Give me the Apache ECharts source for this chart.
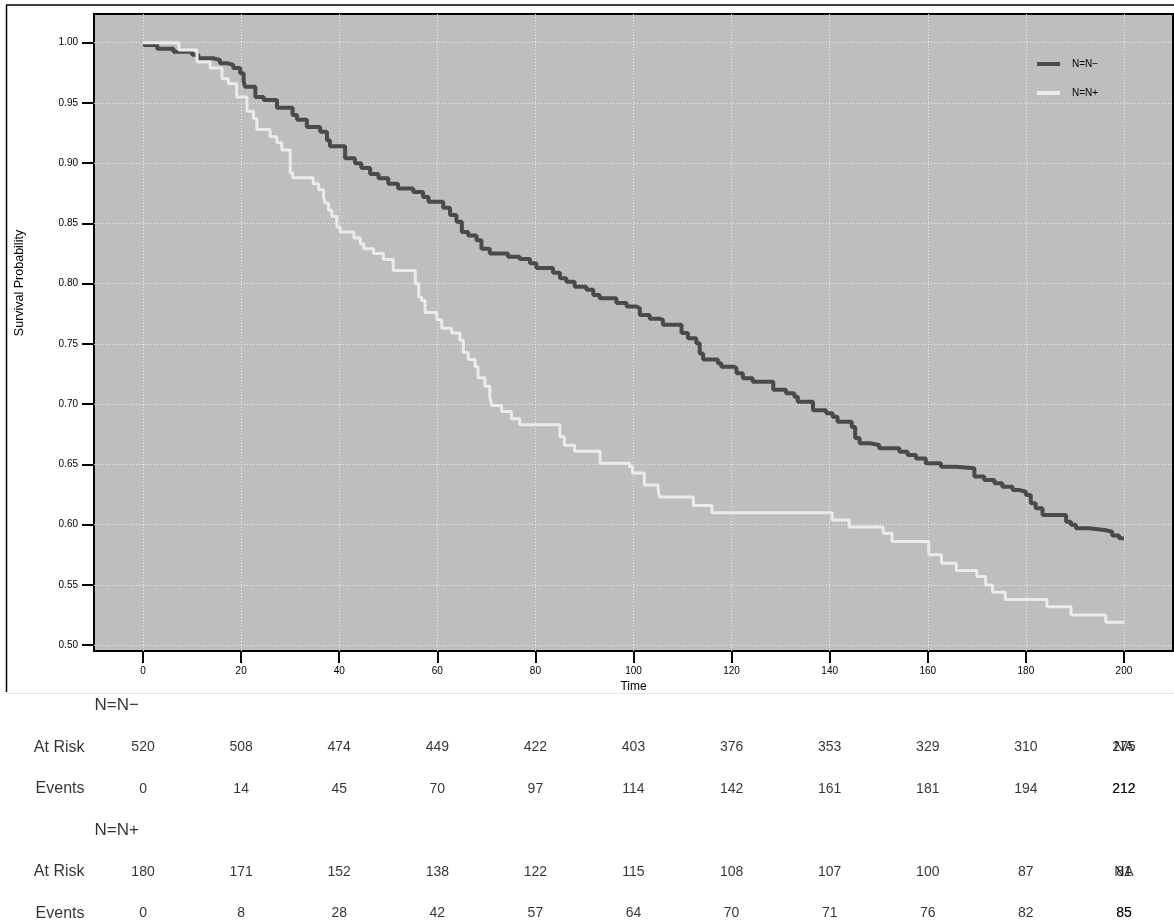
<!DOCTYPE html>
<html><head><meta charset="utf-8">
<script src="https://cdn.jsdelivr.net/npm/echarts@6/dist/echarts.min.js"></script>
<style>html,body{margin:0;padding:0;background:#fff}#c{width:1174px;height:923px}</style>
</head><body><div id="c"></div>
<script>
// ---------- data ----------
const groups = ['N=N\u2212', 'N=N+'];
const timeTicks = [0, 20, 40, 60, 80, 100, 120, 140, 160, 180, 200];
const probTicks = [0.50, 0.55, 0.60, 0.65, 0.70, 0.75, 0.80, 0.85, 0.90, 0.95, 1.00];

const negTime = [0, 2.9, 6.2, 10.0, 11.3, 14.4, 15.7, 17.1, 18.4, 19.8, 20.5, 20.8, 22.9, 24.6, 27.3, 30.5, 31.4, 33.4, 36.1, 37.5,
  38.1, 41.2, 43.2, 44.5, 46.3, 48.0, 50.0, 52.0, 55.1, 57.1, 58.2, 61.2, 62.6, 63.9, 65.0, 66.3, 68.0, 69.0, 70.7, 74.4,
  76.8, 78.9, 80.2, 83.6, 85.0, 86.3, 88.0, 90.4, 91.8, 93.1, 96.5, 98.6, 100.6, 101.3, 103.3, 105.3, 106.0, 109.8, 111.1, 112.8,
  113.5, 114.2, 117.2, 117.9, 120.5, 121.0, 122.3, 124.3, 128.5, 131.1, 132.8, 133.5, 136.6, 139.3, 140.6, 141.6, 144.5, 145.2, 146.1, 148.2,
  150.1, 154.2, 155.9, 157.6, 159.6, 162.7, 165.8, 169.5, 171.5, 173.6, 175.2, 177.3, 178.6, 180.0, 181.0, 182.0, 183.4, 188.2, 189.2, 190.2,
  192.9, 196.0, 197.6, 199.0, 200.0];
const negSurv = [0.998, 0.995, 0.9925, 0.990, 0.987, 0.9856, 0.983, 0.9815, 0.979, 0.9746, 0.968, 0.9635, 0.955, 0.9525, 0.946, 0.940, 0.936, 0.930, 0.926, 0.919,
  0.914, 0.904, 0.900, 0.896, 0.891, 0.8875, 0.883, 0.879, 0.876, 0.872, 0.868, 0.863, 0.857, 0.8515, 0.843, 0.840, 0.836, 0.829, 0.825, 0.8224,
  0.8205, 0.817, 0.813, 0.809, 0.8045, 0.8017, 0.7975, 0.795, 0.7906, 0.788, 0.784, 0.781, 0.7796, 0.774, 0.771, 0.770, 0.766, 0.759, 0.7547, 0.7505,
  0.742, 0.737, 0.734, 0.731, 0.7298, 0.7256, 0.7215, 0.7187, 0.712, 0.709, 0.7062, 0.702, 0.695, 0.6924, 0.6896, 0.6855, 0.681, 0.672, 0.6676, 0.6662,
  0.6634, 0.6606, 0.6578, 0.655, 0.651, 0.6481, 0.6468, 0.640, 0.637, 0.6344, 0.6316, 0.6288, 0.6274, 0.6246, 0.6178, 0.6136, 0.608, 0.6025, 0.600, 0.597,
  0.5956, 0.5942, 0.591, 0.5887, 0.5887];

const posTime = [0, 7.3, 11.0, 13.7, 16.1, 17.4, 19.1, 21.2, 22.5, 23.2, 25.9, 27.3, 28.3, 30.0, 30.5, 34.7, 35.8, 36.8, 37.1, 37.8,
  38.5, 39.5, 40.2, 43.0, 44.3, 45.0, 47.0, 49.0, 51.0, 55.5, 56.2, 56.8, 57.5, 59.9, 60.9, 62.9, 64.6, 65.3, 66.3, 67.7,
  68.3, 69.7, 70.7, 71.1, 73.1, 75.1, 76.8, 85.0, 85.9, 88.0, 93.2, 99.2, 99.8, 102.2, 105.0, 105.3, 112.2, 116.0, 140.5, 144.0,
  150.9, 152.7, 160.2, 162.8, 165.8, 170.0, 171.8, 173.2, 175.8, 184.3, 189.2, 196.3, 200.0];
const posSurv = [1.000, 0.994, 0.984, 0.979, 0.970, 0.966, 0.955, 0.943, 0.937, 0.928, 0.922, 0.917, 0.911, 0.892, 0.888, 0.883, 0.878, 0.872, 0.867, 0.861,
  0.856, 0.847, 0.843, 0.838, 0.833, 0.829, 0.825, 0.820, 0.811, 0.800, 0.789, 0.786, 0.776, 0.770, 0.763, 0.759, 0.753, 0.743, 0.737, 0.731,
  0.722, 0.715, 0.706, 0.699, 0.694, 0.688, 0.683, 0.673, 0.666, 0.661, 0.651, 0.648, 0.643, 0.633, 0.630, 0.623, 0.616, 0.610, 0.604, 0.598,
  0.593, 0.586, 0.575, 0.568, 0.562, 0.557, 0.550, 0.544, 0.538, 0.532, 0.525, 0.519, 0.519];

const rowLabels = ['At Risk', 'Events'];
const negAtRisk = ['520', '508', '474', '449', '422', '403', '376', '353', '329', '310', '275'];
const negEvents = ['0', '14', '45', '70', '97', '114', '142', '161', '181', '194', '212'];
const posAtRisk = ['180', '171', '152', '138', '122', '115', '108', '107', '100', '87', '81'];
const posEvents = ['0', '8', '28', '42', '57', '64', '70', '71', '76', '82', '85'];
// second labels printed on top of the last column
const negAtRiskExtra = ['NA'];
const negEventsExtra = ['212'];
const posAtRiskExtra = ['NA'];
const posEventsExtra = ['85'];

// ---------- build ----------
const FONT = "'Liberation Sans', Arial, Helvetica, sans-serif";
const zip = (a, b) => a.map((v, i) => [v, b[i]]);
const X_MIN = -10, X_MAX = 210;

const tableRows = [
  { header: groups[0] },
  { label: rowLabels[0], values: negAtRisk, extra: negAtRiskExtra },
  { label: rowLabels[1], values: negEvents, extra: negEventsExtra },
  { header: groups[1] },
  { label: rowLabels[0], values: posAtRisk, extra: posAtRiskExtra },
  { label: rowLabels[1], values: posEvents, extra: posEventsExtra }
];
const headerData = [], rowLabelData = [], numberData = [];
tableRows.forEach((r, i) => {
  const y = i + 0.5;
  if (r.header) headerData.push([X_MIN, y, r.header]);
  else {
    rowLabelData.push([X_MIN, y, r.label]);
    r.values.forEach((v, j) => numberData.push([timeTicks[j], y, v]));
    r.extra.forEach(v => numberData.push([timeTicks[timeTicks.length - 1], y, v]));
  }
});

const textSeries = (data, label) => ({
  type: 'scatter', xAxisIndex: 1, yAxisIndex: 1, data, symbolSize: 1,
  itemStyle: { color: 'transparent' }, silent: true,
  label: Object.assign({ show: true, formatter: p => p.value[2], color: '#000', fontFamily: FONT }, label)
});

const chart = echarts.init(document.getElementById('c'), null, { renderer: 'canvas' });
chart.setOption({
  animation: false,
  backgroundColor: '#fff',
  textStyle: { fontFamily: FONT },
  grid: [
    { left: 94, top: 14, right: 1, bottom: 272, show: true, backgroundColor: '#bebebe', borderColor: '#000', borderWidth: 2, containLabel: false },
    { left: 94, right: 1, top: 685, bottom: 0, show: false }
  ],
  xAxis: [
    {
      type: 'value', gridIndex: 0, min: X_MIN, max: X_MAX,
      name: 'Time', nameLocation: 'middle', nameGap: 22,
      nameTextStyle: { fontSize: 12, color: '#000', fontFamily: FONT },
      axisLine: { show: false, onZero: false },
      axisTick: { show: true, customValues: timeTicks, length: 12, lineStyle: { color: '#000', width: 2 } },
      axisLabel: { customValues: timeTicks, fontSize: 10, color: '#000', margin: 15, fontFamily: FONT },
      splitLine: { show: true, lineStyle: { color: '#ececec', width: 1, type: [1, 2] } }
    },
    { type: 'value', gridIndex: 1, min: X_MIN, max: X_MAX, show: false, splitLine: { show: false } }
  ],
  yAxis: [
    {
      type: 'value', gridIndex: 0, min: 0.4952, max: 1.0238,
      axisLine: { show: false, onZero: false },
      axisTick: { show: true, customValues: probTicks, length: 12, lineStyle: { color: '#000', width: 2 } },
      axisLabel: { customValues: probTicks, fontSize: 10, color: '#000', margin: 16, formatter: v => v.toFixed(2), fontFamily: FONT },
      splitLine: { show: true, lineStyle: { color: '#ececec', width: 1, type: [1, 2] } }
    },
    { type: 'value', gridIndex: 1, min: 0, max: (923 - 685) / 41.5, inverse: true, show: false, splitLine: { show: false } }
  ],
  legend: {
    orient: 'vertical', left: 1037, top: 59, padding: 0, itemWidth: 23, itemHeight: 4, itemGap: 19,
    icon: 'rect', data: groups,
    textStyle: { fontSize: 10, color: '#000', fontFamily: FONT, padding: [0, 0, 0, 7] }
  },
  series: [
    {
      name: groups[0], type: 'line', step: 'end', data: zip(negTime, negSurv), showSymbol: false, symbol: 'none',
      lineStyle: { color: '#4a4a4a', width: 4 }, itemStyle: { color: '#4a4a4a' }, z: 3
    },
    {
      name: groups[1], type: 'line', step: 'end', data: zip(posTime, posSurv), showSymbol: false, symbol: 'none',
      lineStyle: { color: '#ebebeb', width: 3 }, itemStyle: { color: '#ebebeb' }, z: 4
    },
    textSeries(headerData, { position: 'right', distance: 0, fontSize: 17 }),
    textSeries(rowLabelData, { position: 'left', distance: 9, fontSize: 16 }),
    textSeries(numberData, { position: 'inside', fontSize: 14 })
  ],
  graphic: [
    { type: 'line', shape: { x1: 6.5, y1: 5, x2: 6.5, y2: 692 }, style: { stroke: '#000', lineWidth: 1.5 }, silent: true },
    { type: 'line', shape: { x1: 6, y1: 5, x2: 1174, y2: 5 }, style: { stroke: '#000', lineWidth: 1.5 }, silent: true },
    { type: 'line', shape: { x1: 6, y1: 693.5, x2: 1174, y2: 693.5 }, style: { stroke: '#e4e4e4', lineWidth: 1 }, silent: true },
    { type: 'text', x: 20, y: 283, rotation: Math.PI / 2,
      style: { text: 'Survival Probability', fill: '#000', font: '12.5px ' + FONT, textAlign: 'center', textVerticalAlign: 'middle' }, silent: true }
  ]
});
</script>
</body></html>
